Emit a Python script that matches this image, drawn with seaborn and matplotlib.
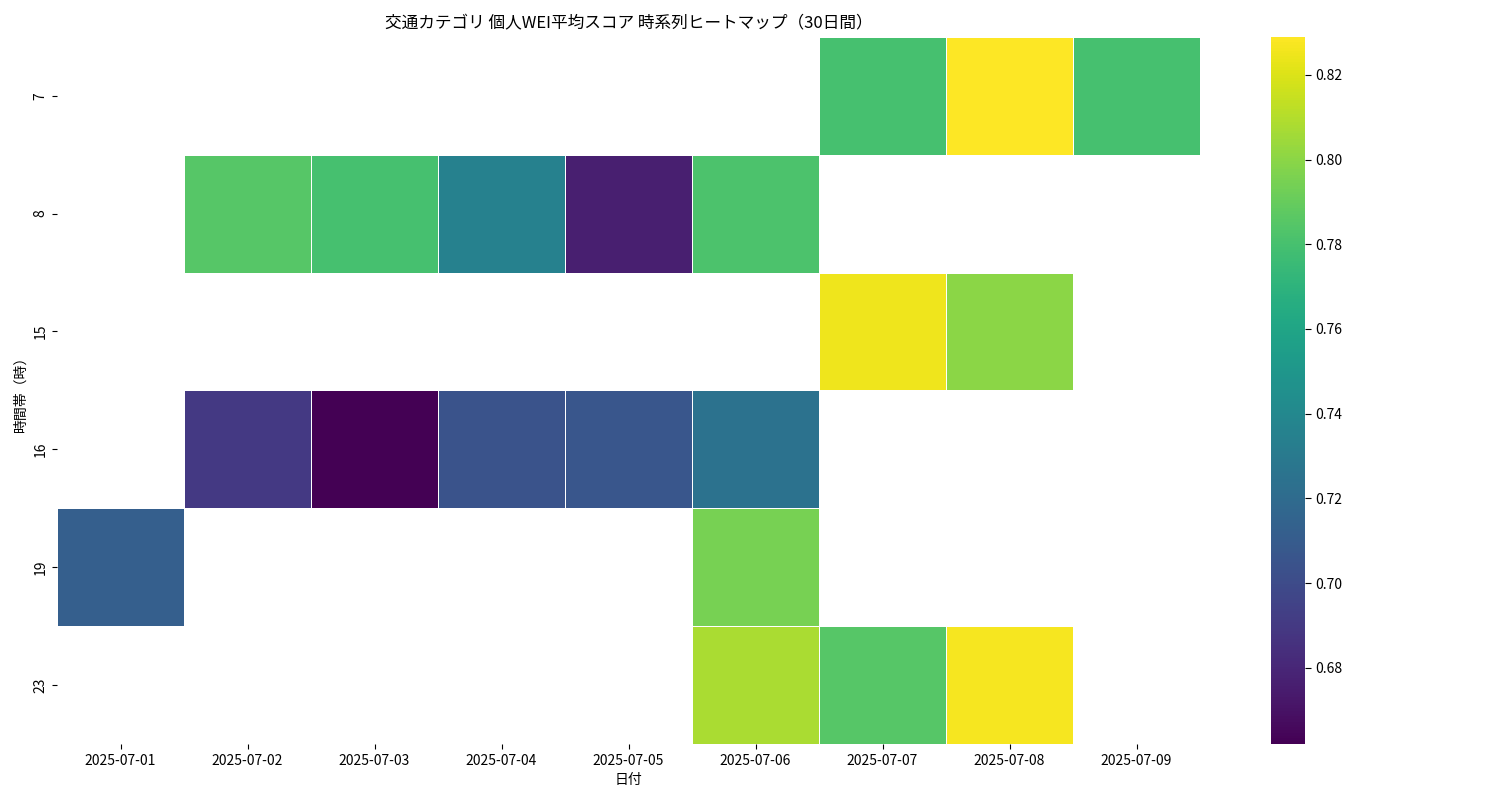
import matplotlib
matplotlib.use("Agg")
import matplotlib.pyplot as plt
import seaborn as sns
import numpy as np
import pandas as pd

plt.rcParams["font.family"] = "Noto Sans CJK JP"

dates = ["2025-07-01","2025-07-02","2025-07-03","2025-07-04","2025-07-05",
         "2025-07-06","2025-07-07","2025-07-08","2025-07-09"]
hours = [7, 8, 15, 16, 19, 23]
nan = np.nan
row_7  = [nan, nan, nan, nan, nan, nan, 0.780, 0.829, 0.780]
row_8  = [nan, 0.785, 0.780, 0.735, 0.676, 0.782, nan, nan, nan]
row_15 = [nan, nan, nan, nan, nan, nan, 0.825, 0.800, nan]
row_16 = [nan, 0.690, 0.662, 0.705, 0.707, 0.725, nan, nan, nan]
row_19 = [0.712, nan, nan, nan, nan, 0.795, nan, nan, nan]
row_23 = [nan, nan, nan, nan, nan, 0.808, 0.785, 0.827, nan]

df = pd.DataFrame([row_7, row_8, row_15, row_16, row_19, row_23], index=hours, columns=dates)

fig = plt.figure(figsize=(15, 8), dpi=100)
ax = fig.add_axes([0.038, 0.07, 0.762, 0.884])
cax = fig.add_axes([0.847, 0.07, 0.023, 0.884])
sns.heatmap(df, cmap="viridis", linewidths=0.5, linecolor="white", ax=ax, cbar_ax=cax)
ax.set_title("交通カテゴリ 個人WEI平均スコア 時系列ヒートマップ（30日間）")
ax.set_xlabel("日付")
ax.set_ylabel("時間帯（時）")
cax.tick_params(length=4)
fig.savefig("out.png")
